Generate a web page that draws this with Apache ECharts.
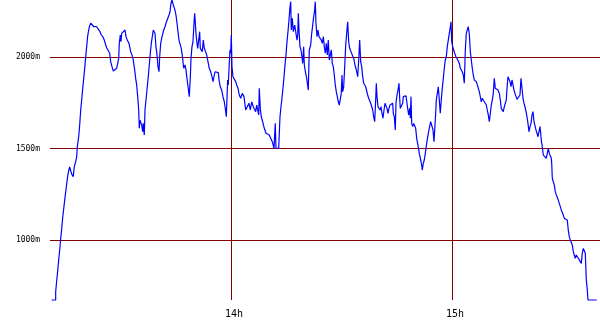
<!DOCTYPE html>
<html>
<head>
<meta charset="utf-8">
<script src="https://cdn.jsdelivr.net/npm/echarts@6/dist/echarts.min.js"></script>
<style>html,body{margin:0;padding:0;background:#fff;}#c{width:600px;height:330px;}</style>
</head>
<body>
<div id="c"></div>
<script>
// time in minutes after 13:00
const timeMin = [
11.32,12.40,12.40,12.67,12.95,13.22,13.49,13.76,14.03,14.30,14.57,14.85,15.12,15.39,15.66,15.93,16.20,16.48,16.75,17.18,17.45,17.72,18.10,18.27,
18.65,18.92,19.19,19.46,19.73,20.00,20.28,20.55,20.82,21.09,
21.36,21.63,21.91,22.45,22.80,23.53,23.97,24.43,24.70,25.16,
25.60,25.98,26.25,26.68,27.06,27.34,27.69,28.04,28.50,28.96,
29.24,29.51,29.67,29.94,30.13,30.32,30.76,31.22,31.49,31.84,
32.30,32.76,33.12,33.47,33.85,34.12,34.39,34.67,34.94,35.10,
35.29,35.48,35.75,36.02,36.19,36.46,36.65,36.92,37.19,37.54,
37.81,38.09,38.36,38.63,38.90,39.17,39.36,39.63,39.91,40.18,
40.45,40.64,40.91,41.18,41.45,41.72,42.08,42.35,42.81,43.16,
43.44,43.71,43.98,44.33,44.79,45.06,45.34,45.61,45.88,46.23,
46.50,46.88,47.15,47.51,47.78,48.05,48.40,48.67,48.95,49.14,
49.41,49.68,49.95,50.14,50.30,50.49,50.77,50.96,51.23,51.50,
51.66,51.93,52.20,52.48,52.75,53.13,53.40,53.75,54.10,54.48,
54.84,55.11,55.38,55.65,56.11,56.55,56.82,57.09,57.47,57.82,
58.18,58.45,58.72,58.91,59.10,59.26,59.45,59.73,59.91,60.08,
60.27,60.54,60.89,61.27,61.54,61.90,62.25,
62.63,63.06,63.53,63.99,64.42,64.88,65.24,65.62,66.05,66.43,
66.70,66.97,67.25,67.52,67.68,67.95,68.22,68.60,69.04,69.50,
69.96,70.39,70.86,71.21,71.67,72.02,72.21,72.57,72.95,73.30,
73.57,73.84,74.11,74.39,74.66,74.93,75.20,75.47,75.74,76.02,
76.21,76.37,76.64,76.91,77.29,77.64,77.92,78.11,78.27,78.46,
78.73,79.00,79.27,79.46,79.73,79.90,80.28,80.55,80.82,80.98,
81.25,81.63,81.91,82.18,82.45,82.72,82.88,83.07,83.35,83.62,
83.89,84.16,84.51,84.78,85.06,85.33,85.60,85.87,86.14,86.41,
86.69,86.96,87.23,87.50,87.77,88.04,88.31,88.59,88.86,89.13,
89.40,89.67,89.94,90.13,90.32,90.59,90.87,91.14,91.41,91.68,
91.95,92.22,92.58,92.93,93.31,93.66,94.02,94.40,94.67,94.94,
95.21,95.48,95.75,96.02,96.30,96.57,96.84,97.11,97.38,97.65,
97.93,98.20,98.47,98.74,99.01,99.28,99.45,99.64,99.91,100.18,
100.45,100.72,100.99,101.26,101.54,101.81,102.08,102.35,102.62,102.89,
103.17,103.52,103.90,104.06,104.33,104.60,104.79,105.07,105.34,105.61,
105.80,105.96,106.34,106.61,106.78,107.16,107.51,107.78,107.97,108.24,
108.51,108.68,108.87,109.06,109.33,109.60,109.87,110.14,
110.41,110.85,111.12,111.50,111.77,111.93,112.21,112.48,112.75,112.94,113.13,113.48,113.83,114.21,114.57,114.84,115.11,115.38,115.57,115.74,116.01,
116.28,116.55,116.82,117.09,117.36,117.64,117.91,118.18,118.45,118.72,
118.99,119.27,119.54,119.73,119.92,120.19,120.46,120.73,121.08,121.44,
121.82,122.09,
122.25,122.52,122.79,123.07,123.34,123.61,123.88,124.15,124.42,124.69,
124.97,125.24,125.51,125.78,126.05,126.32,126.60,126.87,127.14,127.41,
127.68,127.95,128.22,128.50,128.77,129.04,129.31,129.58,129.85,130.13,
130.40,130.67,130.94,131.21,131.48,131.75,132.13,132.49,132.84,133.11,
133.38,133.65,133.93,134.20,134.47,134.74,134.93,135.20,135.47,135.75,
136.02,136.29,136.56,136.83,137.10,137.37,137.65,137.92,138.19,138.46,
138.73,139.00,139.28,139.55,139.82,140.09,140.36,140.63,140.90,141.18,
141.45,141.72,141.99,142.26,142.53,142.80,143.08,143.35,143.62,143.89,
144.08,144.24,144.51,144.79,145.06,145.33,145.60,145.87,146.14,146.42,
146.69,146.96,
147.07,147.23,147.50,147.77,148.04,148.32,148.59,148.86,149.13,149.40,
149.67,149.94,150.22,150.49,150.76,151.03,151.30,151.57,151.84,152.12,
152.39,152.66,152.93,153.20,153.47,153.75,154.02,154.29,154.56,154.83,
155.10,155.37,155.65,155.92,156.19,156.46,156.73,156.92,159.28
];
// altitude in metres
const altitude = [
672,672,717,776,832,891,945,1005,1060,1120,1169,1218,1262,1306,1349,1378,1399,1378,1360,1346,1400,1420,1453,1509,
1564,1628,1710,1765,1825,1879,1939,2000,2056,2114,
2147,2171,2184,2180,2165,2165,2156,2138,2124,2111,
2092,2065,2050,2042,2020,1974,1947,1923,1929,1938,
1929,1992,2074,2120,2083,2129,2138,2147,2111,2092,
2074,2029,2011,1983,1929,1883,1847,1783,1710,1610,
1655,1665,1628,1591,1637,1573,1710,1765,1819,1892,
1956,2020,2074,2111,2147,2156,2129,2056,2011,1947,
1919,2001,2074,2102,2092,2147,2165,2184,2192,2229,
2247,2293,2311,2284,2256,2229,2184,2138,2092,2083,
2047,1992,1938,1956,1929,1883,1829,1783,1883,1992,
2056,2083,2184,2238,2247,2129,2074,2047,2056,2138,
2047,2038,2029,2092,2047,2038,2011,1974,1938,1919,
1892,1865,1874,1919,1919,1914,1865,1837,1819,1783,
1755,1719,1673,1665,1874,1847,1929,2038,2020,2120,
1947,1892,1883,1865,1847,1829,1792,
1774,1801,1783,1710,1728,1747,1710,1755,1728,1719,
1701,1737,1710,1683,1829,1719,1673,1646,1610,1583,
1577,1573,1564,1537,1501,1637,1501,1509,1501,1673,
1728,1774,1829,1892,1956,2011,2083,2138,2202,2274,
2302,2147,2211,2138,2174,2129,2092,2120,2238,2147,
2056,2038,2001,1965,2056,1956,1910,1883,1874,1819,
2038,2065,2129,2174,2220,2256,2302,2184,2111,2147,
2111,2102,2092,2074,2111,2056,2020,2074,2011,2092,
1983,1974,2038,1965,1947,1901,1847,1810,1783,1755,
1737,1747,1801,1901,1810,1837,1947,2065,2129,2192,
2083,2047,2029,2011,1992,1956,1929,1892,1983,2092,
1974,1947,1892,1856,1847,1837,1829,1792,1774,1765,
1747,1737,1710,1673,1646,1765,1856,1783,1728,1737,
1710,1728,1692,1665,1710,1747,1737,1719,1692,1719,
1737,1747,1747,1692,1673,1601,1747,1792,1819,1856,
1774,1719,1728,1747,1783,1792,1788,1747,1719,1683,
1719,1665,1783,1637,1619,1637,1628,1610,
1555,1509,1473,1437,1409,1382,1419,1437,1473,1501,1528,1573,1610,1646,1637,1601,1537,1628,1692,1765,1774,
1837,1847,1692,1765,1829,1883,1938,1983,2001,2056,
2092,2129,2165,2192,2083,2056,2038,2020,2001,1992,
1974,1956,
1938,1929,1919,1901,1856,2038,2129,2147,2165,2129,
2029,1983,1938,1901,1874,1883,1865,1847,1829,1810,
1783,1755,1774,1774,1755,1747,1737,1710,1683,1646,
1692,1737,1765,1801,1883,1829,1823,1819,1801,1765,
1719,1710,1701,1728,1737,1765,1829,1892,1901,1865,
1837,1874,1847,1819,1801,1792,1768,1765,1774,1792,
1883,1829,1774,1747,1728,1701,1673,1637,1591,1619,
1637,1683,1701,1646,1637,1601,1583,1564,1573,1619,
1583,1546,1509,1464,1455,1459,1446,1455,1501,1473,
1473,1446,
1419,1337,1318,1300,1264,1246,1236,1218,1200,1182,
1164,1154,1136,1118,1113,1118,1109,1054,1018,1000,
990,972,936,918,900,918,908,900,890,900,
872,927,954,945,927,781,727,672,672
];
const altLines = [1000, 1500, 2000];
const hourLines = [60, 120];
const hourLabels = ['14h', '15h'];

const data = timeMin.map((t, i) => [t, altitude[i]]);
const mlData = altLines.map(v => ({
  yAxis: v,
  label: { formatter: v + 'm', position: 'start', distance: 10, fontSize: 8,
           fontFamily: 'DejaVu Sans Mono', color: '#000' }
})).concat(hourLines.map((v, i) => ({
  xAxis: v,
  label: { formatter: hourLabels[i], position: 'start', distance: 9, fontSize: 10,
           fontFamily: 'DejaVu Sans Mono', color: '#000', padding: [0, 0, 0, 6] }
})));

const chart = echarts.init(document.getElementById('c'), null, { renderer: 'canvas' });
chart.setOption({
  animation: false,
  grid: { left: 50, right: 0, top: 0, bottom: 30 },
  xAxis: { type: 'value', min: 10.86, max: 160.18, show: false },
  yAxis: { type: 'value', min: 672, max: 2311, show: false },
  series: [{
    type: 'line',
    data: data,
    symbol: 'none',
    clip: false,
    lineStyle: { color: '#0000ff', width: 1.2 },
    z: 3,
    markLine: {
      silent: true,
      symbol: 'none',
      animation: false,
      lineStyle: { color: '#800000', width: 1, type: 'solid' },
      data: mlData,
      z: 2
    }
  }]
});
</script>
</body>
</html>
